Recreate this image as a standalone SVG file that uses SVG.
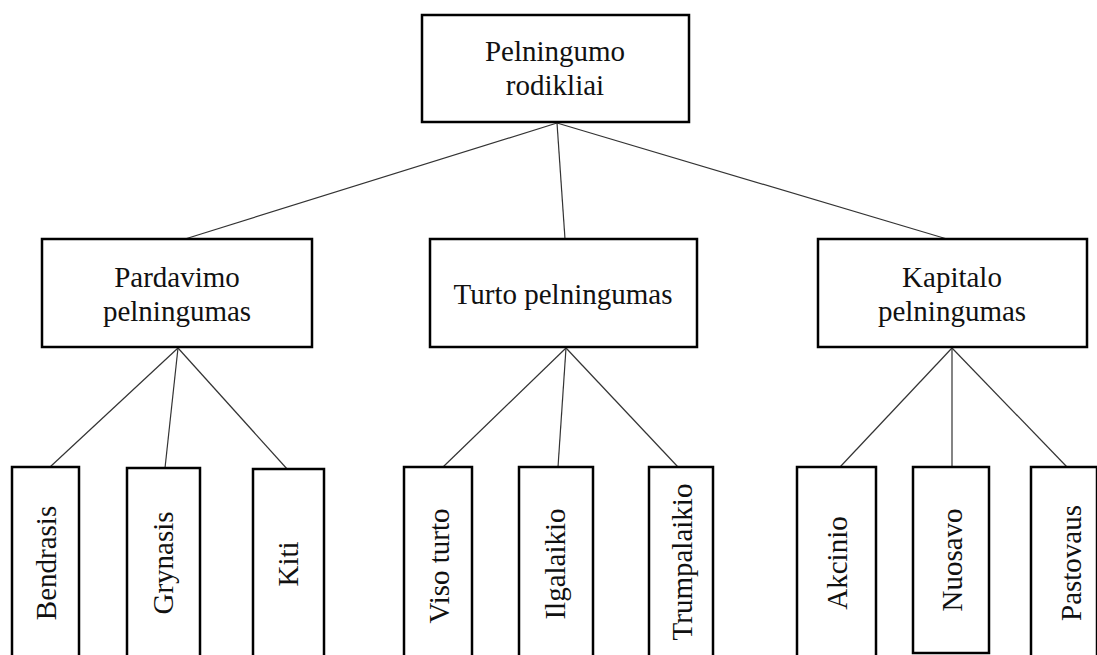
<svg xmlns="http://www.w3.org/2000/svg" width="1097" height="655" viewBox="0 0 1097 655">
<style>
.box{fill:#fff;stroke:#000;stroke-width:2.5}
.t{font-family:"Liberation Serif","Times New Roman",serif;font-size:29px;fill:#111;text-anchor:middle}
.c line{stroke:#333;stroke-width:1.2}
</style>
<rect width="1097" height="655" fill="#fff"/>
<g class="c" id="connectors">
<line x1="557" y1="123" x2="185" y2="239"/>
<line x1="557" y1="123" x2="565" y2="239"/>
<line x1="557" y1="123" x2="947" y2="239"/>
<line x1="178" y1="348" x2="50" y2="467"/>
<line x1="178" y1="348" x2="165" y2="468"/>
<line x1="178" y1="348" x2="288" y2="470"/>
<line x1="566" y1="348" x2="443" y2="467"/>
<line x1="566" y1="348" x2="558" y2="467"/>
<line x1="566" y1="348" x2="678" y2="467"/>
<line x1="952" y1="348" x2="840" y2="467"/>
<line x1="952" y1="348" x2="952" y2="467"/>
<line x1="952" y1="348" x2="1067" y2="467"/>
</g>
<g id="root"><rect class="box" x="422" y="15" width="267" height="107"/>
<text class="t" x="555" y="61">Pelningumo</text><text class="t" x="555" y="95">rodikliai</text></g>
<g id="pardavimo"><rect class="box" x="42" y="239" width="270" height="108"/>
<text class="t" x="177" y="287">Pardavimo</text><text class="t" x="177" y="321">pelningumas</text></g>
<g id="turto"><rect class="box" x="430" y="239" width="267" height="108"/>
<text class="t" x="563" y="304">Turto pelningumas</text></g>
<g id="kapitalo"><rect class="box" x="818" y="239" width="269" height="108"/>
<text class="t" x="952" y="287">Kapitalo</text><text class="t" x="952" y="321">pelningumas</text></g>
<g id="bendrasis"><rect class="box" x="12" y="467" width="67" height="240"/>
<text class="t" transform="translate(56,563) rotate(-90)">Bendrasis</text></g>
<g id="grynasis"><rect class="box" x="127" y="468" width="73" height="240"/>
<text class="t" transform="translate(173,563) rotate(-90)">Grynasis</text></g>
<g id="kiti"><rect class="box" x="253" y="469" width="71" height="240"/>
<text class="t" transform="translate(298,564) rotate(-90)">Kiti</text></g>
<g id="viso"><rect class="box" x="404" y="467" width="68" height="240"/>
<text class="t" transform="translate(449,566) rotate(-90)">Viso turto</text></g>
<g id="ilgalaikio"><rect class="box" x="519" y="467" width="74" height="240"/>
<text class="t" transform="translate(565,564) rotate(-90)">Ilgalaikio</text></g>
<g id="trumpalaikio"><rect class="box" x="649" y="467" width="64" height="240"/>
<text class="t" transform="translate(692,562) rotate(-90)">Trumpalaikio</text></g>
<g id="akcinio"><rect class="box" x="797" y="467" width="79" height="240"/>
<text class="t" transform="translate(847,563) rotate(-90)">Akcinio</text></g>
<g id="nuosavo"><rect class="box" x="913" y="467" width="76" height="186"/>
<text class="t" transform="translate(962,560) rotate(-90)">Nuosavo</text></g>
<g id="pastovaus"><rect class="box" x="1031" y="467" width="66" height="240"/>
<text class="t" transform="translate(1081,563) rotate(-90)">Pastovaus</text></g>
</svg>
